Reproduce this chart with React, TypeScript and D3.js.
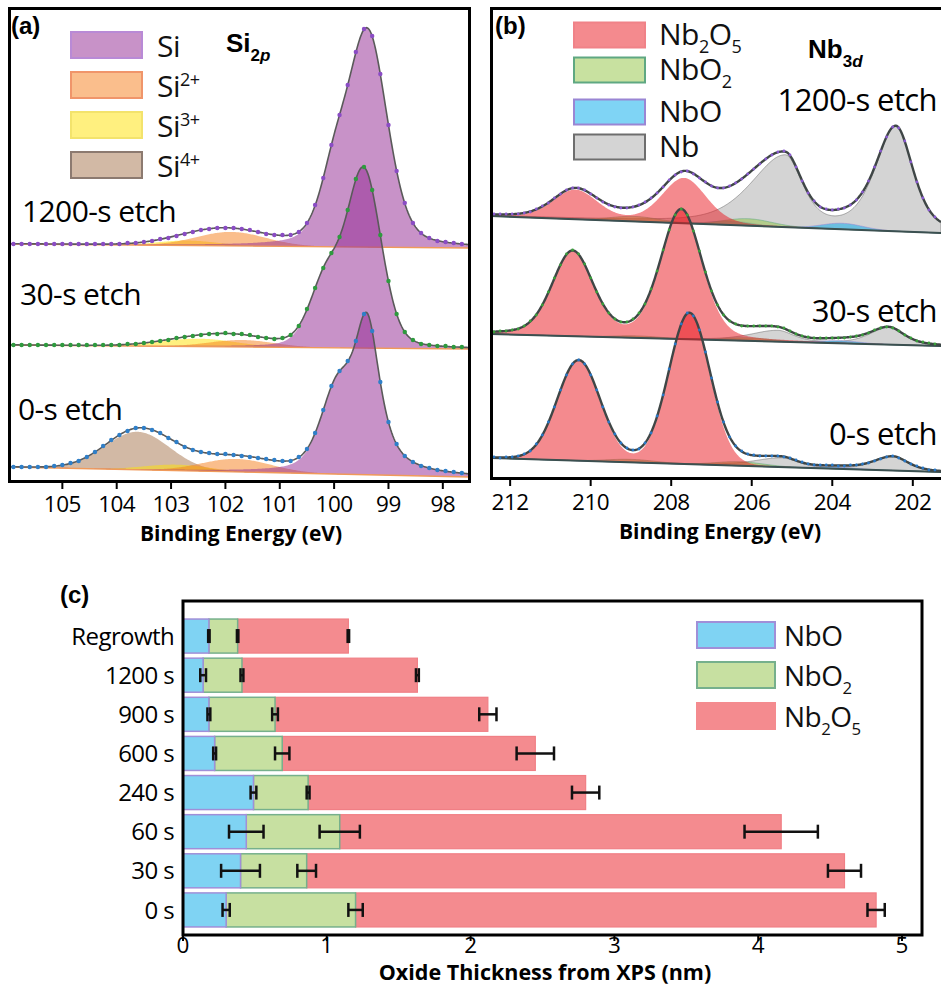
import React from "react";
import * as d3 from "d3";

type Peak = { c: number; h: number; w: number; wl?: number; m?: number };

// ---------- Si 2p spectra (panel a) ----------
const siLabels = ["1200-s etch", "30-s etch", "0-s etch"];
// measured counts (stacked, arbitrary units), sampled every 0.15 eV from 105.9 eV down
const siCounts1200 = [
  238, 238, 238, 238, 238, 238, 238, 238, 238, 238, 238, 238, 238, 238, 239, 239, 240, 241, 243, 244, 246, 248, 250, 252, 253,
  254, 254, 254, 253, 252, 250, 248, 247, 247, 247, 250, 259, 277, 304, 337, 367, 397, 430, 453, 446, 408, 357, 311, 279, 259,
  249, 244, 241, 240, 239, 238,
];
const siCounts30 = [
  137, 137, 137, 137, 137, 137, 137, 137, 137, 137, 137, 137, 137, 137, 138, 138, 139, 140, 141, 142, 144, 145, 146, 147, 148,
  148, 149, 148, 148, 147, 145, 144, 143, 144, 147, 156, 173, 194, 214, 229, 245, 272, 303, 315, 292, 247, 201, 168, 150, 142,
  138, 137, 136, 136, 135, 135,
];
const siCounts0 = [
  15, 15, 15, 15, 15, 16, 17, 19, 21, 25, 30, 36, 42, 47, 51, 54, 54, 52, 49, 44, 40, 35, 32, 30, 29,
  28, 28, 27, 26, 25, 24, 23, 22, 21, 21, 25, 33, 49, 72, 96, 111, 121, 141, 168, 151, 100, 60, 38, 26, 20,
  16, 14, 12, 11, 10, 9,
];
const siCounts = [siCounts1200, siCounts30, siCounts0];
// fitted background (value at the high- and low-energy ends) and fit components
const siBaseline: number[][] = [[238, 234], [137, 133], [15, 5]];
const siElemental: Peak[][] = [
  [{ c: 99.38, h: 212, w: 0.85, m: 0.3 }, { c: 100.0, h: 58, w: 0.65, m: 0.3 }],
  [{ c: 99.45, h: 175, w: 0.75, m: 0.2 }, { c: 100.15, h: 65, w: 0.7, m: 0.2 }],
  [{ c: 99.39, h: 147, w: 0.58, m: 0.8 }, { c: 99.95, h: 72, w: 0.7, m: 0.3 }],
];
const siTwoPlus: Peak[][] = [
  [{ c: 101.9, h: 14, w: 1.5 }],
  [{ c: 101.7, h: 7, w: 1.4 }],
  [{ c: 101.8, h: 13, w: 1.5 }],
];
const siThreePlus: Peak[][] = [
  [{ c: 102.7, h: 5, w: 1.3 }],
  [{ c: 102.5, h: 8, w: 1.6 }],
  [{ c: 102.9, h: 6, w: 1.4 }],
];
const siFourPlus: Peak[][] = [[], [], [{ c: 103.62, h: 38, w: 1.4 }]];
const siTicks = [105, 104, 103, 102, 101, 100, 99, 98];

// ---------- Nb 3d spectra (panel b) ----------
const nbLabels = ["1200-s etch", "30-s etch", "0-s etch"];
// measured counts, sampled every 0.15 eV from 212.4 eV down
const nbCounts1200 = [
  268, 268, 268, 268, 268, 269, 270, 273, 276, 279, 284, 288, 292, 294, 294, 292, 288, 284, 280, 277, 275, 274, 274, 275, 277,
  280, 284, 289, 295, 302, 307, 310, 311, 308, 304, 300, 296, 294, 294, 296, 299, 303, 308, 313, 318, 323, 327, 330, 331, 327,
  315, 301, 289, 281, 275, 273, 272, 273, 274, 277, 282, 290, 301, 315, 331, 345, 355, 354, 341, 320, 300, 284, 272, 265,
];
const nbCounts30 = [
  150, 151, 151, 152, 153, 156, 161, 167, 177, 190, 204, 217, 228, 232, 228, 218, 204, 190, 178, 169, 163, 160, 160, 163, 169,
  178, 193, 211, 232, 252, 267, 273, 267, 251, 231, 210, 191, 177, 167, 161, 158, 156, 156, 156, 156, 156, 156, 155, 154, 151,
  148, 146, 145, 144, 144, 144, 144, 144, 144, 145, 146, 147, 149, 152, 154, 155, 154, 151, 147, 144, 141, 140, 139, 138,
];
const nbCounts0 = [
  25, 24, 25, 25, 26, 28, 31, 38, 47, 60, 75, 92, 107, 118, 122, 118, 107, 92, 75, 60, 48, 39, 34, 32, 33,
  39, 49, 66, 87, 113, 138, 158, 169, 166, 152, 130, 104, 80, 60, 45, 36, 31, 28, 27, 26, 26, 26, 26, 25, 24,
  22, 20, 18, 17, 17, 17, 17, 16, 16, 17, 17, 18, 19, 21, 23, 25, 26, 24, 21, 18, 16, 14, 12, 12,
];
const nbCounts = [nbCounts1200, nbCounts30, nbCounts0];
const nbBaseline: number[][] = [[266, 249], [148, 136], [24, 10]];
const nbPentoxide: Peak[][] = [
  [{ c: 207.68, h: 45, w: 1.3, m: 0.25 }, { c: 210.38, h: 29, w: 1.3, m: 0.25 }],
  [{ c: 207.75, h: 128, w: 1.2, m: 0.25 }, { c: 210.45, h: 84, w: 1.2, m: 0.25 }],
  [{ c: 207.55, h: 150, w: 1.2, m: 0.05 }, { c: 210.3, h: 100, w: 1.25, m: 0.05 }],
];
const nbDioxide: Peak[][] = [
  [{ c: 206.1, h: 7, w: 1.4 }, { c: 208.9, h: 5, w: 1.4 }],
  [{ c: 206.1, h: 3, w: 1.4 }, { c: 208.85, h: 2, w: 1.4 }],
  [{ c: 206.3, h: 4, w: 1.4 }, { c: 209.0, h: 3, w: 1.4 }],
];
const nbMonoxide: Peak[][] = [
  [{ c: 203.75, h: 6, w: 1.2 }, { c: 206.5, h: 4, w: 1.2 }],
  [{ c: 203.8, h: 2.5, w: 1.2 }, { c: 206.55, h: 1.5, w: 1.2 }],
  [{ c: 203.9, h: 1.5, w: 1.2 }],
];
const nbMetal: Peak[][] = [
  [{ c: 202.42, h: 104, w: 1.0, wl: 1.2, m: 0.5 }, { c: 205.17, h: 70, w: 1.0, wl: 2.0, m: 0.5 }],
  [{ c: 202.6, h: 17, w: 0.9, wl: 1.1, m: 0.5 }, { c: 205.35, h: 11, w: 0.9, wl: 1.6, m: 0.5 }],
  [{ c: 202.5, h: 14, w: 0.9, wl: 1.1, m: 0.5 }, { c: 205.25, h: 9, w: 0.9, wl: 1.6, m: 0.5 }],
];
const nbTicks = [212, 210, 208, 206, 204, 202];

// ---------- Oxide thickness (panel c) ----------
const etchTimes = ["Regrowth", "1200 s", "900 s", "600 s", "240 s", "60 s", "30 s", "0 s"];
const nboThickness = [0.18, 0.14, 0.18, 0.22, 0.49, 0.44, 0.40, 0.30];
const nbo2Thickness = [0.20, 0.27, 0.46, 0.47, 0.38, 0.65, 0.46, 0.90];
const nb2o5Thickness = [0.77, 1.22, 1.48, 1.76, 1.93, 3.07, 3.74, 3.62];
const nboError = [0.005, 0.02, 0.01, 0.01, 0.02, 0.12, 0.135, 0.025];
const nbo2Error = [0.005, 0.01, 0.02, 0.05, 0.01, 0.14, 0.065, 0.05];
const nb2o5Error = [0.005, 0.01, 0.06, 0.13, 0.095, 0.255, 0.115, 0.06];
const thicknessTicks = [0, 1, 2, 3, 4, 5];

const SANS = "'Open Sans', 'Noto Sans', sans-serif";
const ARIAL = "'Liberation Sans', Arial, sans-serif";

const SI_COL = { si: "#912591", two: "#f57d19", three: "#ffe100", four: "#a5734b" };
const SI_EDGE = { si: "#b98ad6", two: "#f0956a", three: "#f3e36c", four: "#8c7a70" };
const NB_COL = { pent: "#e9151d", diox: "#91c341", mono: "#00aaeb", metal: "#a9a9a9" };
const NB_EDGE = { pent: "#f08288", diox: "#5fa882", mono: "#9a86d4", metal: "#6e6e6e" };
const DOT_A = ["#8a4cc4", "#2e9a3e", "#2f7fc8"];
const DOT_B = ["#8a5ad0", "#3aa03a", "#2878c8"];

// pseudo-Voigt line shape, optionally wider on the high-binding-energy side
function peakAt(p: Peak, e: number) {
  const w = e > p.c ? p.wl ?? p.w : p.w;
  const x = (e - p.c) / w;
  const m = p.m ?? 0;
  return p.h * ((1 - m) * Math.exp(-4 * Math.LN2 * x * x) + m / (1 + 4 * x * x));
}
const sumAt = (ps: Peak[], e: number) => ps.reduce((s, p) => s + peakAt(p, e), 0);

type Comp = { peaks: Peak[]; fill: string; edge?: string };

function Spectrum(props: {
  x: d3.ScaleLinear<number, number>;
  y: d3.ScaleLinear<number, number>;
  domain: number[];
  base: number[];
  comps: Comp[];
  dotE: number[];
  counts: number[];
  dotColor: string;
  dotR: number;
  lineColor: string;
  lineWidth: number;
  baseColor: string;
  baseWidth: number;
}) {
  const { x, y, domain, base, comps } = props;
  const baseAt = (e: number) => base[0] + ((base[1] - base[0]) * (domain[0] - e)) / (domain[0] - domain[1]);
  const grid = d3.range(domain[0], domain[1] - 0.005, -0.02);
  const all = comps.flatMap((c) => c.peaks);
  const fit = (e: number) => baseAt(e) + sumAt(all, e);
  const fills = comps.map((c) =>
    d3
      .area<number>()
      .x((e) => x(e))
      .y0((e) => y(baseAt(e)))
      .y1((e) => y(baseAt(e) + sumAt(c.peaks, e)))(grid)
  );
  const fitPath = d3.line<number>().x((e) => x(e)).y((e) => y(fit(e)))(grid);
  const basePath = d3.line<number>().x((e) => x(e)).y((e) => y(baseAt(e)))([domain[0], domain[1]]);
  return (
    <g>
      {fills.map((d, i) => (
        <path key={i} d={d ?? ""} fill={comps[i].fill} fillOpacity={0.5}
          stroke={comps[i].edge ?? "none"} strokeWidth={0.8} strokeOpacity={0.7} />
      ))}
      <path d={basePath ?? ""} fill="none" stroke={props.baseColor} strokeWidth={props.baseWidth} />
      <path d={fitPath ?? ""} fill="none" stroke={props.lineColor} strokeWidth={props.lineWidth} />
      {props.counts.map((v, i) => (
        <circle key={i} cx={x(props.dotE[i])} cy={y(v)} r={props.dotR} fill={props.dotColor} />
      ))}
    </g>
  );
}

function LegendText(props: { x: number; y: number; parts: [string, string][]; size: number }) {
  const { x, y, parts, size } = props;
  let level = 0;
  const spans = parts.map(([t, kind], i) => {
    const target = kind === "sub" ? size * 0.28 : kind === "sup" ? -size * 0.38 : 0;
    const dy = target - level;
    level = target;
    return (
      <tspan key={i} dy={dy} fontSize={kind === "n" ? size : size * 0.6}>
        {t}
      </tspan>
    );
  });
  return (
    <text x={x} y={y} fontFamily={SANS} fontSize={size} fill="#111" letterSpacing={-0.5}>
      {spans}
    </text>
  );
}

export default function App() {
  const xSi = d3.scaleLinear().domain([106.0, 97.5]).range([8, 470]);
  const xNb = d3.scaleLinear().domain([212.5, 201.3]).range([490, 941]);
  const yInt = d3.scaleLinear().domain([0, 475]).range([482, 7]);

  const siDotE = d3.range(105.9, 97.55, -0.15);
  const nbDotE = d3.range(212.4, 201.3, -0.15);

  const xT = d3.scaleLinear().domain([0, 5]).range([183, 902]);
  const yB = d3.scaleBand<string>().domain(etchTimes).range([616.5, 929.5]).paddingInner(0.13).paddingOuter(0.065);

  const siLegend: { col: string; edge: string; parts: [string, string][] }[] = [
    { col: SI_COL.si, edge: SI_EDGE.si, parts: [["Si", "n"]] },
    { col: SI_COL.two, edge: SI_EDGE.two, parts: [["Si", "n"], ["2+", "sup"]] },
    { col: SI_COL.three, edge: SI_EDGE.three, parts: [["Si", "n"], ["3+", "sup"]] },
    { col: SI_COL.four, edge: SI_EDGE.four, parts: [["Si", "n"], ["4+", "sup"]] },
  ];
  const nbLegend: { col: string; edge: string; parts: [string, string][] }[] = [
    { col: NB_COL.pent, edge: NB_EDGE.pent, parts: [["Nb", "n"], ["2", "sub"], ["O", "n"], ["5", "sub"]] },
    { col: NB_COL.diox, edge: NB_EDGE.diox, parts: [["NbO", "n"], ["2", "sub"]] },
    { col: NB_COL.mono, edge: NB_EDGE.mono, parts: [["NbO", "n"]] },
    { col: NB_COL.metal, edge: NB_EDGE.metal, parts: [["Nb", "n"]] },
  ];
  const siLegendY = [45, 85, 125, 165];
  const nbLegendY = [35, 70, 112, 147];

  const barLegend: { col: string; edge: string; parts: [string, string][] }[] = [
    { col: "#7fd3f3", edge: "#a08fd8", parts: [["NbO", "n"]] },
    { col: "#c7e0a1", edge: "#76b08c", parts: [["NbO", "n"], ["2", "sub"]] },
    { col: "#f48b8f", edge: "#f48b8f", parts: [["Nb", "n"], ["2", "sub"], ["O", "n"], ["5", "sub"]] },
  ];
  const barLegendY = [635, 675, 716];

  const siLabelPos = [[22, 222], [20, 305], [18, 420]];
  const nbLabelPos = [[937, 111], [937, 322], [937, 445]];

  return (
    <svg width={941} height={987} style={{ position: "absolute", left: 0, top: 0, background: "#fff" }}>
      <defs>
        <clipPath id="clipA"><rect x={9} y={8} width={460} height={473} /></clipPath>
        <clipPath id="clipB"><rect x={491} y={8} width={450} height={470} /></clipPath>
      </defs>

      {/* ---------------- panel (a): Si 2p ---------------- */}
      <g clipPath="url(#clipA)">
        {siLabels.map((_, i) => (
          <Spectrum key={i} x={xSi} y={yInt} domain={[106.0, 97.5]} base={siBaseline[i]}
            comps={[
              { peaks: siFourPlus[i], fill: SI_COL.four },
              { peaks: siThreePlus[i], fill: SI_COL.three },
              { peaks: siTwoPlus[i], fill: SI_COL.two },
              { peaks: siElemental[i], fill: SI_COL.si },
            ]}
            dotE={siDotE} counts={siCounts[i]} dotColor={DOT_A[i]} dotR={2.2}
            lineColor="#5a5a5a" lineWidth={1.6} baseColor="#f09a5a" baseWidth={1.4} />
        ))}
      </g>
      <rect x={9.5} y={8.5} width={460} height={473} fill="none" stroke="#000" strokeWidth={3} />
      {siTicks.map((t) => (
        <g key={t}>
          <line x1={xSi(t)} x2={xSi(t)} y1={482} y2={489} stroke="#000" strokeWidth={2} />
          <text x={xSi(t)} y={512} textAnchor="middle" fontFamily={SANS} fontSize={22.5} letterSpacing={-0.5}>{t}</text>
        </g>
      ))}
      <text x={241} y={541} textAnchor="middle" fontFamily={SANS} fontWeight={700} fontSize={21}>Binding Energy (eV)</text>
      <text x={11} y={34} fontFamily={ARIAL} fontWeight={700} fontSize={24}>(a)</text>
      <text x={226} y={52} fontFamily={ARIAL} fontWeight={700} fontSize={26}>
        Si<tspan dy={9} fontSize={17}>2</tspan><tspan fontStyle="italic" fontSize={17}>p</tspan>
      </text>
      {siLegend.map((l, i) => (
        <g key={i}>
          <rect x={71} y={siLegendY[i] - 13} width={71} height={26} fill={l.col} fillOpacity={0.5} stroke={l.edge} strokeWidth={2} />
          <LegendText x={157} y={siLegendY[i] + 12} parts={l.parts} size={30} />
        </g>
      ))}
      {siLabels.map((s, i) => (
        <text key={s} x={siLabelPos[i][0]} y={siLabelPos[i][1]} fontFamily={SANS} fontSize={30} letterSpacing={-0.6}>{s}</text>
      ))}

      {/* ---------------- panel (b): Nb 3d ---------------- */}
      <g clipPath="url(#clipB)">
        {nbLabels.map((_, i) => (
          <Spectrum key={i} x={xNb} y={yInt} domain={[212.5, 201.3]} base={nbBaseline[i]}
            comps={[
              { peaks: nbMetal[i], fill: NB_COL.metal, edge: NB_EDGE.metal },
              { peaks: nbMonoxide[i], fill: NB_COL.mono, edge: NB_EDGE.mono },
              { peaks: nbDioxide[i], fill: NB_COL.diox, edge: NB_EDGE.diox },
              { peaks: nbPentoxide[i], fill: NB_COL.pent },
            ]}
            dotE={nbDotE} counts={nbCounts[i]} dotColor={DOT_B[i]} dotR={1.4}
            lineColor="#3f4646" lineWidth={2.4} baseColor="#3b5050" baseWidth={2} />
        ))}
      </g>
      <rect x={491.5} y={8.5} width={460} height={470} fill="none" stroke="#000" strokeWidth={3} />
      {nbTicks.map((t) => (
        <g key={t}>
          <line x1={xNb(t)} x2={xNb(t)} y1={479} y2={486} stroke="#000" strokeWidth={2} />
          <text x={xNb(t)} y={510} textAnchor="middle" fontFamily={SANS} fontSize={22.5} letterSpacing={-0.5}>{t}</text>
        </g>
      ))}
      <text x={720} y={539} textAnchor="middle" fontFamily={SANS} fontWeight={700} fontSize={21}>Binding Energy (eV)</text>
      <text x={495} y={34} fontFamily={ARIAL} fontWeight={700} fontSize={24}>(b)</text>
      <text x={808} y={58} fontFamily={ARIAL} fontWeight={700} fontSize={26}>
        Nb<tspan dy={9} fontSize={17}>3</tspan><tspan fontStyle="italic" fontSize={17}>d</tspan>
      </text>
      {nbLegend.map((l, i) => (
        <g key={i}>
          <rect x={574} y={nbLegendY[i] - 12.5} width={71} height={25} fill={l.col} fillOpacity={0.5} stroke={l.edge} strokeWidth={2} />
          <LegendText x={659} y={nbLegendY[i] + 10} parts={l.parts} size={30} />
        </g>
      ))}
      {nbLabels.map((s, i) => (
        <text key={s} x={nbLabelPos[i][0]} y={nbLabelPos[i][1]} textAnchor="end" fontFamily={SANS} fontSize={31} letterSpacing={-0.6}>{s}</text>
      ))}

      {/* ---------------- panel (c): oxide thickness ---------------- */}
      <text x={60} y={603} fontFamily={ARIAL} fontWeight={700} fontSize={24}>(c)</text>
      {etchTimes.map((t, i) => {
        const y0 = yB(t) ?? 0;
        const bh = yB.bandwidth();
        const e1 = nboThickness[i];
        const e2 = e1 + nbo2Thickness[i];
        const e3 = e2 + nb2o5Thickness[i];
        const errs = [
          [e1, nboError[i]],
          [e2, nbo2Error[i]],
          [e3, nb2o5Error[i]],
        ];
        const cy = y0 + bh / 2;
        return (
          <g key={t}>
            <rect x={xT(e2)} y={y0} width={xT(e3) - xT(e2)} height={bh} fill="#f48b8f" stroke="#f07f85" strokeWidth={1.2} />
            <rect x={xT(e1)} y={y0} width={xT(e2) - xT(e1)} height={bh} fill="#c7e0a1" stroke="#76b08c" strokeWidth={1.5} />
            <rect x={xT(0)} y={y0} width={xT(e1) - xT(0)} height={bh} fill="#7fd3f3" stroke="#a08fd8" strokeWidth={1.5} />
            {errs.map(([v, er], k) => (
              <g key={k} stroke="#111" strokeWidth={2.5}>
                <line x1={xT(v - er)} x2={xT(v + er)} y1={cy} y2={cy} />
                <line x1={xT(v - er)} x2={xT(v - er)} y1={cy - 7} y2={cy + 7} />
                <line x1={xT(v + er)} x2={xT(v + er)} y1={cy - 7} y2={cy + 7} />
              </g>
            ))}
            <text x={174} y={cy} dy="0.36em" textAnchor="end" fontFamily={SANS} fontSize={24} letterSpacing={-0.6}>{t}</text>
          </g>
        );
      })}
      <rect x={183} y={601} width={739} height={334} fill="none" stroke="#000" strokeWidth={3} />
      {thicknessTicks.map((t) => (
        <g key={t}>
          <line x1={xT(t)} x2={xT(t)} y1={935} y2={941} stroke="#000" strokeWidth={2} />
          <text x={xT(t)} y={953} textAnchor="middle" fontFamily={SANS} fontSize={22.5}>{t}</text>
        </g>
      ))}
      <text x={545} y={980} textAnchor="middle" fontFamily={SANS} fontWeight={700} fontSize={21.5}>Oxide Thickness from XPS (nm)</text>
      {barLegend.map((l, i) => (
        <g key={i}>
          <rect x={697} y={barLegendY[i] - 13} width={78} height={26} fill={l.col} stroke={l.edge} strokeWidth={2} />
          <LegendText x={784} y={barLegendY[i] + 11} parts={l.parts} size={28} />
        </g>
      ))}
    </svg>
  );
}
